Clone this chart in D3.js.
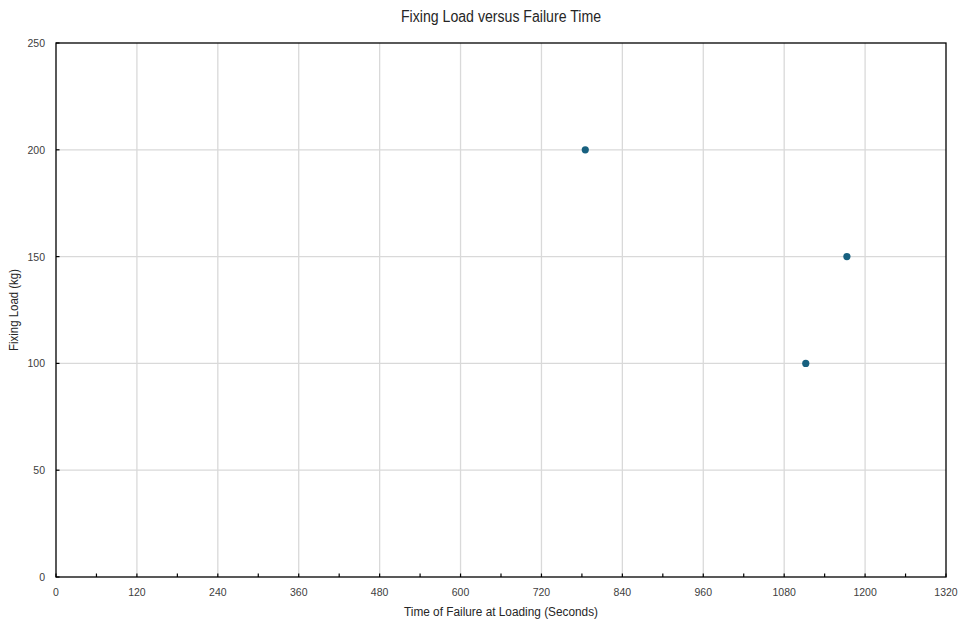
<!DOCTYPE html>
<html><head><meta charset="utf-8">
<script src="https://cdn.jsdelivr.net/npm/d3@7"></script>
<style>body{margin:0;background:#fff;}svg{display:block;}</style>
</head><body>
<svg id="c" width="963" height="624"></svg>
<script>
const timeValues = [785, 1112, 1173];
const loadValues = [200, 100, 150];
const xTicks = [0,120,240,360,480,600,720,840,960,1080,1200,1320];
const xMinorTicks = [60,180,300,420,540,660,780,900,1020,1140,1260];
const yTicks = [0,50,100,150,200,250];
const title = "Fixing Load versus Failure Time";
const xTitle = "Time of Failure at Loading (Seconds)";
const yTitle = "Fixing Load (kg)";

const svg = d3.select("#c");
const L=56, T=43, R=946, B=577;
const x = d3.scaleLinear().domain([0,1320]).range([L,R]);
const y = d3.scaleLinear().domain([0,250]).range([B,T]);
const font = "'Liberation Sans', Arial, sans-serif";

// grid
svg.append("g").selectAll("line").data(xTicks.slice(1,-1)).join("line")
  .attr("x1",d=>x(d)).attr("x2",d=>x(d)).attr("y1",T).attr("y2",B)
  .attr("stroke","#d9d9d9").attr("stroke-width",1.3);
svg.append("g").selectAll("line").data(yTicks.slice(1,-1)).join("line")
  .attr("y1",d=>y(d)).attr("y2",d=>y(d)).attr("x1",L).attr("x2",R)
  .attr("stroke","#d9d9d9").attr("stroke-width",1.3);

// ticks (inside)
svg.append("g").selectAll("line").data(xTicks.concat(xMinorTicks)).join("line")
  .attr("x1",d=>x(d)).attr("x2",d=>x(d)).attr("y1",B).attr("y2",B-3.5)
  .attr("stroke","#000").attr("stroke-width",1.2);
svg.append("g").selectAll("line").data(yTicks).join("line")
  .attr("y1",d=>y(d)).attr("y2",d=>y(d)).attr("x1",L).attr("x2",L+3.5)
  .attr("stroke","#000").attr("stroke-width",1.2);

// frame
svg.append("rect").attr("x",L).attr("y",T).attr("width",R-L).attr("height",B-T)
  .attr("fill","none").attr("stroke","#000").attr("stroke-width",1.3);

// tick labels
svg.append("g").selectAll("text").data(xTicks).join("text")
  .attr("x",d=>x(d)).attr("y",B+19).attr("text-anchor","middle")
  .attr("font-family",font).attr("font-size",10.5).attr("fill","#404040").text(d=>d);
svg.append("g").selectAll("text").data(yTicks).join("text")
  .attr("x",L-11).attr("y",d=>y(d)+4).attr("text-anchor","end")
  .attr("font-family",font).attr("font-size",10.5).attr("fill","#404040").text(d=>d);

// points
svg.append("g").selectAll("circle").data(timeValues.map((t,i)=>[t,loadValues[i]])).join("circle")
  .attr("cx",d=>x(d[0])).attr("cy",d=>y(d[1])).attr("r",3.6).attr("fill","#17607f");

// titles
svg.append("text").attr("x",(L+R)/2).attr("y",22).attr("text-anchor","middle")
  .attr("font-family",font).attr("font-size",16).attr("fill","#262626")
  .attr("textLength",200).attr("lengthAdjust","spacingAndGlyphs").text(title);
svg.append("text").attr("x",(L+R)/2).attr("y",616).attr("text-anchor","middle")
  .attr("font-family",font).attr("font-size",12).attr("fill","#262626")
  .attr("textLength",194).attr("lengthAdjust","spacingAndGlyphs").text(xTitle);
svg.append("text").attr("transform",`translate(18,${(T+B)/2}) rotate(-90)`).attr("text-anchor","middle")
  .attr("font-family",font).attr("font-size",12).attr("fill","#262626")
  .attr("textLength",82).attr("lengthAdjust","spacingAndGlyphs").text(yTitle);
</script>
</body></html>
